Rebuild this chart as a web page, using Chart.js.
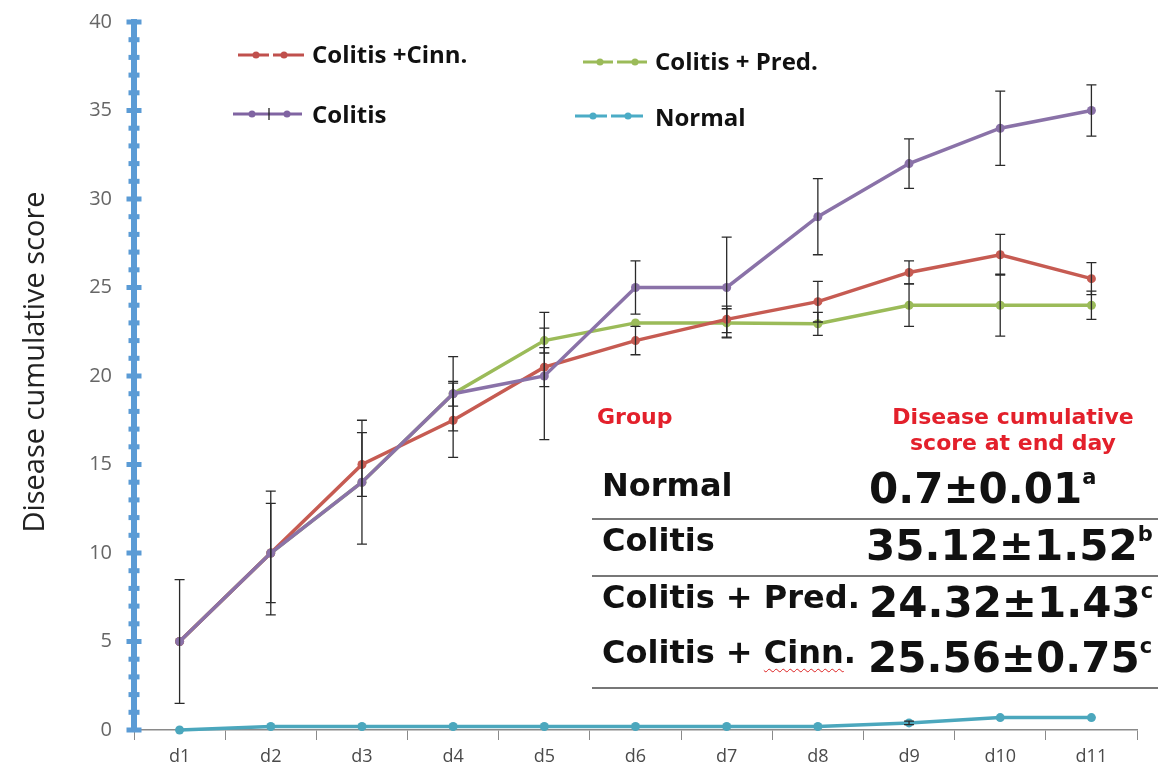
<!DOCTYPE html>
<html lang="en">
<head>
    <meta charset="UTF-8">
    <title>Disease cumulative score</title>
    <script src="https://cdn.jsdelivr.net/npm/chart.js@4.4.1/dist/chart.umd.min.js"></script>
    <style>
        body {
            margin: 0;
            background: #ffffff;
            font-family: 'Open Sans', sans-serif;
        }
        .wrap {
            position: relative;
            width: 1158px;
            height: 765px;
            overflow: hidden;
        }
        #chart {
            position: absolute;
            left: 0;
            top: 0;
        }
        .ytitle {
            position: absolute;
            left: 32px;
            top: 362px;
            transform: translate(-50%, -50%) rotate(-90deg);
            font-size: 29px;
            color: #222;
            white-space: nowrap;
        }
        .leg {
            position: absolute;
            font-family: 'Open Sans', sans-serif;
            font-weight: 700;
            font-size: 24px;
            line-height: 24px;
            color: #111;
            white-space: nowrap;
        }
        .marks {
            position: absolute;
            left: 0;
            top: 0;
            pointer-events: none;
        }
        .tbl {
            position: absolute;
            font-family: 'DejaVu Sans', sans-serif;
            font-weight: 700;
            white-space: nowrap;
            line-height: 1;
        }
        .hdr {
            color: #e3202b;
            font-size: 22px;
            text-align: center;
        }
        .lab {
            font-size: 32px;
            color: #111;
        }
        .val {
            font-size: 42px;
            color: #111;
        }
        .val sup {
            font-size: 0.5em;
            vertical-align: 0.9em;
            line-height: 0;
        }
        .rule {
            position: absolute;
            left: 592px;
            width: 566px;
            height: 2px;
            background: #777;
        }
        .spell {
            text-decoration: underline wavy #d22;
            text-decoration-thickness: 1px;
            text-underline-offset: 5px;
        }
    </style>
</head>
<body>
    <div class="wrap">
        <canvas id="chart" width="1158" height="765"></canvas>
        <div class="ytitle">Disease cumulative score</div>

        <svg class="marks" width="1158" height="765">
            <line x1="238" y1="55" x2="308" y2="55" stroke="#c0504d" stroke-width="3" stroke-dasharray="31 4"/>
            <circle cx="256" cy="55" r="3.5" fill="#c0504d"/>
            <circle cx="284" cy="55" r="3.5" fill="#c0504d"/>
            <line x1="233" y1="114" x2="302" y2="114" stroke="#8064a2" stroke-width="3"/>
            <circle cx="252" cy="114" r="3.5" fill="#8064a2"/>
            <circle cx="287" cy="114" r="3.5" fill="#8064a2"/>
            <line x1="269" y1="108" x2="269" y2="120" stroke="#222" stroke-width="1.3"/>
            <line x1="583" y1="62" x2="648" y2="62" stroke="#9bbb59" stroke-width="3" stroke-dasharray="30 4"/>
            <circle cx="600" cy="62" r="3.5" fill="#9bbb59"/>
            <circle cx="635" cy="62" r="3.5" fill="#9bbb59"/>
            <line x1="575" y1="116" x2="645" y2="116" stroke="#4bacc6" stroke-width="3" stroke-dasharray="32 4"/>
            <circle cx="593" cy="116" r="3.5" fill="#4bacc6"/>
            <circle cx="628" cy="116" r="3.5" fill="#4bacc6"/>
        </svg>
        <div class="leg" style="left:312px; top:42px;">Colitis +Cinn.</div>
        <div class="leg" style="left:312px; top:102px;">Colitis</div>
        <div class="leg" style="left:655px; top:49px;">Colitis + Pred.</div>
        <div class="leg" style="left:655px; top:105px;">Normal</div>

        <div class="tbl hdr" style="left:597px; top:406px; text-align:left;">Group</div>
        <div class="tbl hdr" style="left:863px; top:406px; width:300px;">Disease cumulative<br><span style="line-height:29px;">score at end day</span></div>

        <div class="tbl lab" style="left:602px; top:469px;">Normal</div>
        <div class="tbl val" style="left:869px; top:468px;">0.7±0.01<sup>a</sup></div>
        <div class="rule" style="top:518px;"></div>
        <div class="tbl lab" style="left:602px; top:524px;">Colitis</div>
        <div class="tbl val" style="left:866px; top:525px;">35.12±1.52<sup>b</sup></div>
        <div class="rule" style="top:575px;"></div>
        <div class="tbl lab" style="left:602px; top:581px;">Colitis + Pred.</div>
        <div class="tbl val" style="left:869px; top:582px;">24.32±1.43<sup>c</sup></div>
        <div class="tbl lab" style="left:602px; top:636px;">Colitis + <span class="spell">Cinn</span>.</div>
        <div class="tbl val" style="left:868px; top:637px;">25.56±0.75<sup>c</sup></div>
        <div class="rule" style="top:687px;"></div>
    </div>

    <script>
        // days on the x axis
        const days = ['d1', 'd2', 'd3', 'd4', 'd5', 'd6', 'd7', 'd8', 'd9', 'd10', 'd11'];

        // group means
        const colitis = [5, 10, 14, 19, 20, 25, 25, 29, 32, 34, 35];
        const colitisCinn = [5, 10, 15, 17.5, 20.5, 22, 23.2, 24.2, 25.85, 26.85, 25.5];
        const colitisPred = [5, 10, 14, 19, 22, 23, 23, 22.95, 24, 24, 24];
        const normal = [0, 0.2, 0.2, 0.2, 0.2, 0.2, 0.2, 0.2, 0.4, 0.7, 0.7];

        // error bar half-lengths (SE)
        const colitisErr = [3.5, 3.5, 3.5, 2.1, 3.6, 1.5, 2.85, 2.15, 1.4, 2.1, 1.45];
        const colitisCinnErr = [0, 2.8, 1.8, 2.1, 1.1, 0.8, 0.75, 1.15, 0.65, 1.15, 0.9];
        const colitisPredErr = [0, 0, 0, 0.7, 0.7, 0, 0.8, 0.65, 1.2, 1.75, 0.8];
        const normalErr = [0, 0, 0, 0, 0, 0, 0, 0, 0.1, 0, 0];

        const yMin = 0, yMax = 40, yStep = 5;

        // blue square ticks on the y axis, every unit
        const axisSquares = {
            id: 'axisSquares',
            afterDraw(chart) {
                const y = chart.scales.y;
                const ctx = chart.ctx;
                const x0 = chart.chartArea.left;
                ctx.save();
                ctx.fillStyle = '#5b9bd5';
                for (let v = yMin; v <= yMax; v++) {
                    const py = y.getPixelForValue(v);
                    const w = v % yStep === 0 ? 15 : 11;
                    ctx.fillRect(x0 - w / 2, py - 2.5, w, 5);
                }
                ctx.restore();
            }
        };

        // vertical error bars with caps
        const errorBars = {
            id: 'errorBars',
            afterDatasetsDraw(chart) {
                const ctx = chart.ctx;
                const xs = chart.scales.x, ys = chart.scales.y;
                ctx.save();
                ctx.strokeStyle = '#2a2a2a';
                ctx.lineWidth = 1.3;
                chart.data.datasets.forEach(ds => {
                    if (!ds.errors) return;
                    ds.data.forEach((v, i) => {
                        const e = ds.errors[i];
                        if (!e) return;
                        const px = xs.getPixelForValue(i);
                        const top = ys.getPixelForValue(v + e);
                        const bot = ys.getPixelForValue(v - e);
                        ctx.beginPath();
                        ctx.moveTo(px, top); ctx.lineTo(px, bot);
                        ctx.moveTo(px - 5, top); ctx.lineTo(px + 5, top);
                        ctx.moveTo(px - 5, bot); ctx.lineTo(px + 5, bot);
                        ctx.stroke();
                    });
                });
                ctx.restore();
            }
        };

        function series(label, data, errors, color) {
            return {
                label: label,
                data: data,
                errors: errors,
                borderColor: color,
                backgroundColor: color,
                borderWidth: 3.5,
                pointRadius: 4.5,
                pointBorderWidth: 0,
                tension: 0,
                clip: false
            };
        }

        new Chart(document.getElementById('chart'), {
            type: 'line',
            data: {
                labels: days,
                datasets: [
                    series('Colitis', colitis, colitisErr, '#8a72a8'),
                    series('Colitis +Cinn.', colitisCinn, colitisCinnErr, '#c65b52'),
                    series('Colitis + Pred.', colitisPred, colitisPredErr, '#9bbb59'),
                    series('Normal', normal, normalErr, '#4ba7bd')
                ]
            },
            options: {
                responsive: false,
                animation: false,
                layout: { autoPadding: false, padding: { top: 22, right: 21, left: 0, bottom: 0 } },
                plugins: {
                    legend: { display: false },
                    title: { display: false },
                    tooltip: { enabled: false }
                },
                scales: {
                    x: {
                        offset: true,
                        grid: {
                            offset: true,
                            drawOnChartArea: false,
                            drawTicks: true,
                            tickLength: 10,
                            color: '#8a8a8a'
                        },
                        border: { color: '#8a8a8a', width: 1.5 },
                        ticks: {
                            color: '#4a4a4a',
                            padding: 6,
                            font: { family: 'Open Sans', size: 18 }
                        },
                        afterFit(scale) { scale.height = 35; }
                    },
                    y: {
                        min: yMin,
                        max: yMax,
                        ticks: {
                            stepSize: yStep,
                            color: '#666',
                            padding: 22,
                            font: { family: 'Open Sans', size: 20 }
                        },
                        grid: { drawOnChartArea: false, drawTicks: false },
                        border: { color: '#5b9bd5', width: 6 },
                        afterFit(scale) {
                            scale.width = 134;
                            scale.paddingTop = 10;
                            scale.paddingBottom = 10;
                        }
                    }
                }
            },
            plugins: [axisSquares, errorBars]
        });
    </script>
</body>
</html>
